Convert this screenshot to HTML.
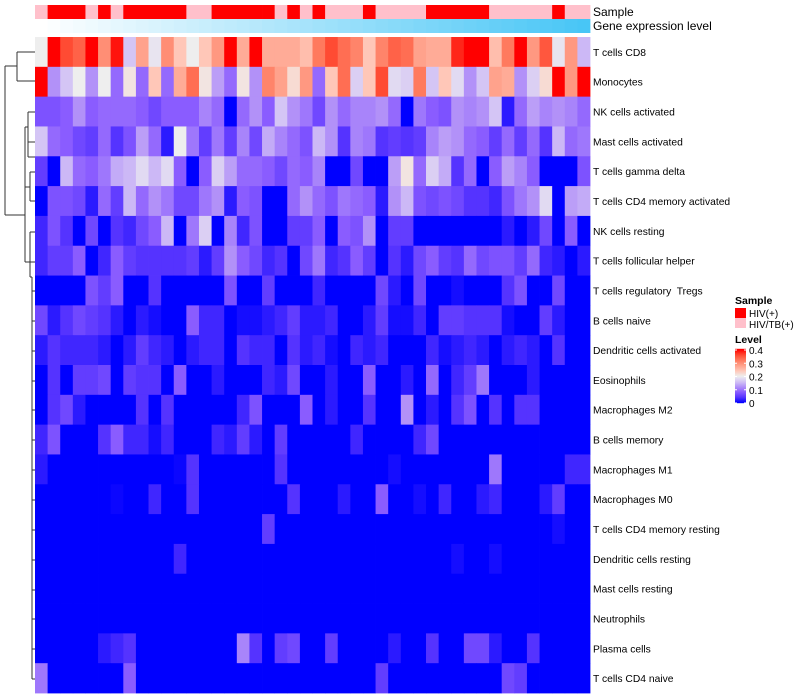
<!DOCTYPE html>
<html><head><meta charset="utf-8"><style>
body{margin:0;background:#fff;}
svg{display:block;font-family:"Liberation Sans",sans-serif;}
text{white-space:pre;}
</style></head><body>
<svg id="chart" width="800" height="700" viewBox="0 0 800 700" xmlns="http://www.w3.org/2000/svg">
<g id="dendro" stroke="#333" stroke-width="1" fill="none">
<path d="M5,66 V215 M5,66 H17 M17,52 V81 M17,52 H35 M17,81 H35 M5,215 H25 M25,127 V262 M25,127 H28 M28,112 V157 M28,112 H35 M28,142 H35 M28,157 H35 M25,187 H30 M30,172 V201 M30,172 H35 M30,201 H35 M25,262 H30 M30,247 V277 M30,232 V247 M30,232 H35 M30,262 H35 M30,277 H32 M32,277 V679 M32,291 H35 M32,321 H35 M32,351 H35 M32,381 H35 M32,410 H35 M32,440 H35 M32,470 H35 M32,500 H35 M32,530 H35 M32,560 H35 M32,590 H35 M32,619 H35 M32,649 H35 M32,679 H35"/>
</g>
<g id="cells"></g>
<g id="anno"></g>
<text x="593" y="16" font-size="12">Sample</text>
<text x="593" y="30" font-size="12">Gene expression level</text>
<g id="rowlabels" font-size="10.3"></g>
<g id="legend" font-size="10">
<text x="735" y="304" font-weight="bold" font-size="10.5">Sample</text>
<rect x="735" y="308" width="11" height="10" fill="#FF0000"/>
<text x="749" y="317">HIV(+)</text>
<rect x="735" y="318" width="11" height="10" fill="#FFC0CB"/>
<text x="749" y="328">HIV/TB(+)</text>
<text x="735" y="343" font-weight="bold" font-size="10.5">Level</text>
<g id="cbar"></g>
</g>
</svg>
<script>
const rowNames=["T cells CD8","Monocytes","NK cells activated","Mast cells activated","T cells gamma delta","T cells CD4 memory activated","NK cells resting","T cells follicular helper","T cells regulatory  Tregs","B cells naive","Dendritic cells activated","Eosinophils","Macrophages M2","B cells memory","Macrophages M1","Macrophages M0","T cells CD4 memory resting","Dendritic cells resting","Mast cells resting","Neutrophils","Plasma cells","T cells CD4 naive"];
const sampleGroup=["P","R","R","R","P","R","P","R","R","R","R","R","P","P","R","R","R","R","R","P","R","P","R","P","P","P","R","P","P","P","P","R","R","R","R","R","P","P","P","P","P","R","P","P"];
const geneLevel=[0,1,2,3,4,5,6,7,8,9,10,11,12,13,14,15,16,17,18,19,20,21,22,23,24,25,26,27,28,29,30,31,32,33,34,35,36,37,38,39,40,41,42,43];
const r0=[.2,.4,.36,.34,.4,.3,.39,.16,.28,.19,.3,.24,.2,.24,.29,.4,.27,.4,.27,.27,.27,.25,.32,.36,.33,.31,.24,.31,.34,.33,.28,.27,.27,.38,.4,.4,.25,.32,.4,.29,.35,.19,.29,.15];
const r1=[.4,.12,.16,.2,.12,.2,.09,.21,.09,.24,.09,.27,.33,.21,.13,.09,.21,.12,.31,.28,.22,.29,.09,.24,.33,.17,.24,.36,.18,.17,.32,.16,.24,.18,.12,.16,.28,.27,.12,.17,.22,.4,.29,.4];
const r2=[.07,.07,.08,.12,.08,.09,.09,.09,.08,.06,.08,.08,.08,.11,.09,0,.09,.12,.08,.16,.12,.1,.06,.12,.09,.11,.11,.12,.09,0,.1,.08,.07,.12,.11,.12,.16,.02,.09,.13,.11,.12,.11,.09];
const r3=[.16,.09,.08,.06,.05,.09,.04,.07,.13,.09,.02,.2,.1,.05,.1,.05,.11,.06,.14,.11,.09,.07,.15,.12,.04,.11,.1,.04,.05,.04,.05,.11,.13,.12,.09,.08,.05,.09,.05,.09,.04,.15,.09,.1];
const r4=[.05,0,.15,.09,.08,.1,.14,.15,.18,.15,.18,.08,0,.08,.17,.13,.09,.09,.08,.06,.09,.08,.11,0,0,.06,0,0,.13,.21,.09,.17,.14,.04,.09,0,.08,.13,.11,.08,0,0,0,.07];
const r5=[0,.07,.07,.06,.02,.09,.05,.15,.09,.12,.1,.06,.06,.1,.12,.02,.08,.07,0,0,.09,.12,.09,.07,.1,.09,.08,.02,.12,.15,.07,.06,.07,.06,.04,.04,.03,.07,.1,.12,.18,0,.13,.14];
const r6=[.03,.07,.04,0,.06,0,.04,.03,.06,.08,.15,0,.1,.17,0,.11,.03,.07,0,0,.05,.05,.08,0,.08,.07,.12,0,.05,.05,0,0,0,0,0,0,0,.02,0,.02,.06,0,.08,0];
const r7=[.03,.05,.05,.08,0,.03,.08,.05,.04,.04,.04,.04,.05,.02,.05,.12,.08,.06,.03,.04,0,.06,.1,.03,.04,.08,.05,0,.04,.02,.06,.08,.05,.04,.09,.06,.07,.07,.05,.09,.03,.02,0,.02];
const r8=[0,0,0,0,.07,.05,.08,0,0,.04,0,0,0,0,0,.07,0,0,.05,0,0,0,.03,0,0,0,0,.06,.02,0,.06,0,0,.01,0,0,0,.04,.07,0,0,.06,0,0];
const r9=[.06,.02,.04,.06,.05,.04,.02,0,.02,.01,0,0,.08,.03,.03,0,.01,.01,.02,.03,.05,.02,.02,.03,0,0,.02,.05,.01,.01,.03,0,.05,.05,.04,.04,.04,.01,0,0,.05,.02,0,0];
const r10=[.02,.04,.03,.03,.03,.02,0,.02,.05,.03,.02,0,.02,.03,.03,0,.04,.03,.03,0,.04,.02,.03,.01,0,.03,.02,.03,0,0,0,.03,.01,.02,.03,.02,0,.02,.03,.02,0,.04,0,0];
const r11=[0,.04,0,.05,.05,.06,0,.05,.04,.04,0,.08,0,0,.02,0,0,0,.03,.02,.06,0,0,.02,0,0,.08,0,0,.02,0,.09,0,.03,.05,.1,0,0,0,.02,0,0,0,0];
const r12=[0,.04,.06,.02,0,0,0,0,.04,0,.04,0,0,0,0,0,.03,.07,0,0,0,.08,0,.02,0,0,.04,0,0,.12,0,.02,0,.04,.07,0,.04,0,.04,.04,0,0,0,0];
const r13=[.03,.07,0,0,0,.04,.08,.03,.03,.01,.03,0,0,0,.03,.02,.05,.02,0,.05,0,0,0,0,0,.03,0,0,0,0,.03,.06,0,0,0,0,0,0,0,0,0,0,0,0];
const r14=[.02,0,0,0,0,0,0,0,0,0,0,.005,.04,0,0,0,0,0,0,.04,0,0,0,0,0,0,0,0,.01,0,0,0,0,0,0,0,.1,0,0,0,0,0,.03,.03];
const r15=[0,0,0,0,0,0,.005,0,0,.03,0,0,.04,0,0,0,0,0,0,0,.04,0,0,0,.02,0,0,.08,0,0,.01,0,.03,0,0,.02,.03,0,0,0,.02,.05,0,0];
const r16=[0,0,0,0,0,0,0,0,0,0,0,0,0,0,0,0,0,0,.05,0,0,0,0,0,0,0,0,0,0,0,0,0,0,0,0,0,0,0,0,0,0,.01,0,0];
const r17=[0,0,0,0,0,0,0,0,0,0,0,.03,0,0,0,0,0,0,0,0,0,0,0,0,0,0,0,0,0,0,0,0,0,.01,0,0,.01,0,0,0,0,0,0,0];
const r18=[0,0,0,0,0,0,0,0,0,0,0,0,0,0,0,0,0,0,0,0,0,0,0,0,0,0,0,0,0,0,0,0,0,0,0,0,0,0,0,0,0,0,0,0];
const r19=[0,0,0,0,0,0,0,0,0,0,0,0,0,0,0,0,0,0,0,0,0,0,0,0,0,0,0,0,0,0,0,0,0,0,0,0,0,0,0,0,0,0,0,0];
const r20=[0,0,0,0,0,.02,.03,.04,0,0,0,0,0,0,0,0,.11,.04,0,.05,.06,0,0,.05,0,0,0,0,.02,0,0,.04,0,0,.06,.06,.02,0,0,.04,0,0,0,0];
const r21=[.1,0,0,0,0,0,0,.08,0,0,0,0,0,0,0,0,0,0,0,0,0,0,0,0,0,0,0,.05,0,0,0,0,0,0,0,0,0,.06,.05,0,0,0,0,0];
const levelTicks=[0,0.1,0.2,0.3,0.4];
const matrix=[r0,r1,r2,r3,r4,r5,r6,r7,r8,r9,r10,r11,r12,r13,r14,r15,r16,r17,r18,r19,r20,r21];

const NS="http://www.w3.org/2000/svg";
const X0=35,X1=590,Y0=37,Y1=693;
const nCol=r0.length,nRow=matrix.length;
const cw=(X1-X0)/nCol,rh=(Y1-Y0)/nRow;
const xPos=i=>X0+i*cw;
const yPos=j=>Y0+j*rh;
const stops=[[0,[0,0,255]],[.04,[85,51,255]],[.08,[138,92,255]],[.12,[178,145,248]],[.16,[212,197,245]],[.2,[238,238,238]],[.24,[255,199,184]],[.28,[255,162,140]],[.32,[255,122,94]],[.36,[255,75,51]],[.4,[255,0,0]]];
function col(v){v=Math.max(0,Math.min(.4,v));for(let k=1;k<stops.length;k++){if(v<=stops[k][0]){const a=stops[k-1],b=stops[k];const t=(v-a[0])/(b[0]-a[0]);const c=a[1].map((x,i)=>Math.round(x+(b[1][i]-x)*t));return `rgb(${c})`;}}return "rgb(255,0,0)";}
function mk(tag,attrs,parent){const e=document.createElementNS(NS,tag);for(const k in attrs)e.setAttribute(k,attrs[k]);parent.appendChild(e);return e;}
const cells=document.getElementById('cells');
matrix.forEach((row,j)=>row.forEach((v,i)=>{
 const r=mk('rect',{x:xPos(i).toFixed(2),y:yPos(j).toFixed(2),width:(cw+0.4).toFixed(2),height:(rh+0.4).toFixed(2),fill:col(v)},cells);
 
 
}));
const anno=document.getElementById('anno');
const gmax=Math.max(...geneLevel);
sampleGroup.forEach((g,i)=>{
 const r=mk('rect',{x:xPos(i).toFixed(2),y:5,width:(cw+0.4).toFixed(2),height:14,fill:g==="R"?"#FF0000":"#FFC0CB"},anno);
 
 
});
geneLevel.forEach((g,i)=>{
 const t=g/gmax;
 const c=[255+(72-255)*t,255+(198-255)*t,255+(246-255)*t].map(Math.round);
 const r=mk('rect',{x:xPos(i).toFixed(2),y:19,width:(cw+0.4).toFixed(2),height:14,fill:`rgb(${c})`},anno);
 
 
});
const rl=document.getElementById('rowlabels');
rowNames.forEach((n,j)=>{
 const t=mk('text',{x:593,y:(yPos(j)+rh/2+4).toFixed(1)},rl);
 t.textContent=n;
 
 
});
const cb=document.getElementById('cbar');
const cbTop=350,cbBot=403,cbX=735;
const ly=v=>cbBot-(v/0.4)*(cbBot-cbTop);
for(let k=0;k<55;k++){const v=0.4*(k/54);mk('rect',{x:cbX,y:(ly(v)-1.2).toFixed(2),width:11,height:1.4,fill:col(v)},cb);}
levelTicks.forEach(v=>{
 mk('line',{x1:cbX,x2:cbX+2,y1:ly(v),y2:ly(v),stroke:"#fff","stroke-width":1},cb);
 mk('line',{x1:cbX+9,x2:cbX+11,y1:ly(v),y2:ly(v),stroke:"#fff","stroke-width":1},cb);
 const t=mk('text',{x:cbX+14,y:(ly(v)+4).toFixed(1),"font-size":"10"},cb);
 t.textContent=v===0?"0":String(v);
 
 
});
</script>
</body></html>
